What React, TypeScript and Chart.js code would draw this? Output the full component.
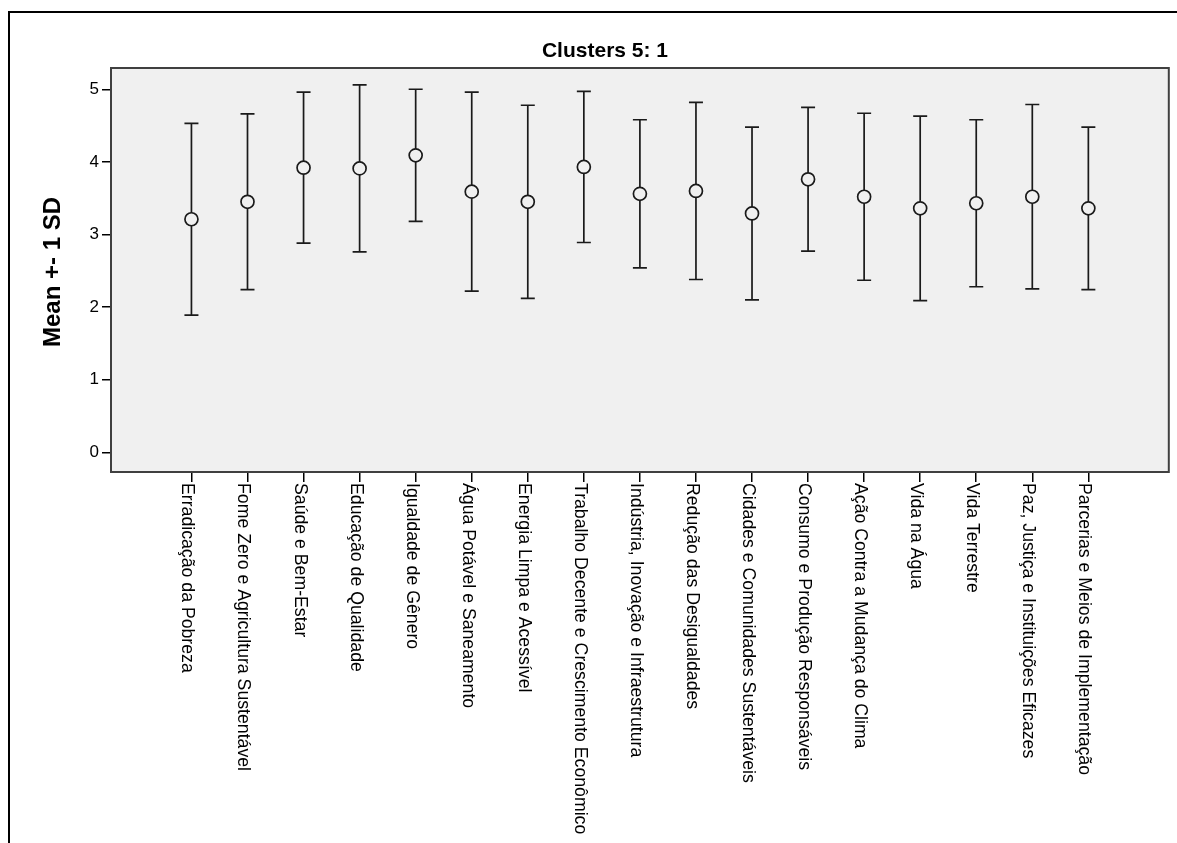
import { useEffect, useRef } from 'react';
import { Chart, registerables } from 'chart.js';

Chart.register(...registerables);

const TITLE = 'Clusters 5: 1';
const Y_TITLE = 'Mean +- 1 SD';

const categories = [
  'Erradicação da Pobreza',
  'Fome Zero e Agricultura Sustentável',
  'Saúde e Bem-Estar',
  'Educação de Qualidade',
  'Igualdade de Gênero',
  'Água Potável e Saneamento',
  'Energia Limpa e Acessível',
  'Trabalho Decente e Crescimento Econômico',
  'Indústria, Inovação e Infraestrutura',
  'Redução das Desigualdades',
  'Cidades e Comunidades Sustentáveis',
  'Consumo e Produção Responsáveis',
  'Ação Contra a Mudança do Clima',
  'Vida na Água',
  'Vida Terrestre',
  'Paz, Justiça e Instituições Eficazes',
  'Parcerias e Meios de Implementação',
];

const means = [3.21, 3.45, 3.92, 3.91, 4.09, 3.59, 3.45, 3.93, 3.56, 3.6, 3.29, 3.76, 3.52, 3.36, 3.43, 3.52, 3.36];
const sds = [1.32, 1.21, 1.04, 1.15, 0.91, 1.37, 1.33, 1.04, 1.02, 1.22, 1.19, 0.99, 1.15, 1.27, 1.15, 1.27, 1.12];

const yTicks = [0, 1, 2, 3, 4, 5];

const FONT = "'Liberation Sans', Arial, sans-serif";
const W = 1177;
const H = 843;

export default function App() {
  const ref = useRef<HTMLCanvasElement>(null);

  useEffect(() => {
    document.body.style.margin = '0';
    const canvas = ref.current!;

    const spssPlugin = {
      id: 'spss',
      beforeDraw(chart: any) {
        const { ctx, chartArea: a } = chart;
        ctx.save();
        ctx.fillStyle = '#ffffff';
        ctx.fillRect(0, 0, chart.width, chart.height);
        // outer frame
        ctx.strokeStyle = '#000';
        ctx.lineWidth = 2;
        ctx.beginPath();
        ctx.moveTo(9, chart.height);
        ctx.lineTo(9, 12);
        ctx.lineTo(chart.width, 12);
        ctx.stroke();
        // plot background
        ctx.fillStyle = '#f0f0f0';
        ctx.fillRect(a.left, a.top, a.right - a.left, a.bottom - a.top);
        ctx.restore();
      },
      beforeDatasetsDraw(chart: any) {
        const { ctx, chartArea: a, scales } = chart;
        const xs = scales.x;
        const ys = scales.y;
        ctx.save();
        // plot border
        ctx.strokeStyle = '#404040';
        ctx.lineWidth = 2;
        ctx.strokeRect(a.left, a.top, a.right - a.left, a.bottom - a.top);
        // error bars
        ctx.strokeStyle = '#1a1a1a';
        ctx.lineWidth = 1.7;
        means.forEach((m, i) => {
          const x = xs.getPixelForValue(i);
          const yt = ys.getPixelForValue(m + sds[i]);
          const yb = ys.getPixelForValue(m - sds[i]);
          ctx.beginPath();
          ctx.moveTo(x, yt);
          ctx.lineTo(x, yb);
          ctx.moveTo(x - 7, yt);
          ctx.lineTo(x + 7, yt);
          ctx.moveTo(x - 7, yb);
          ctx.lineTo(x + 7, yb);
          ctx.stroke();
        });
        ctx.restore();
      },
      afterDraw(chart: any) {
        const { ctx, chartArea: a, scales } = chart;
        const xs = scales.x;
        ctx.save();
        ctx.fillStyle = '#000';
        // title
        ctx.font = `bold 21px ${FONT}`;
        ctx.textAlign = 'right';
        ctx.textBaseline = 'alphabetic';
        ctx.fillText(TITLE, 668, 57);
        // y title
        ctx.save();
        ctx.translate(53, 272);
        ctx.rotate(-Math.PI / 2);
        ctx.font = `bold 24px ${FONT}`;
        ctx.textAlign = 'center';
        ctx.textBaseline = 'middle';
        ctx.fillText(Y_TITLE, 0, 0);
        ctx.restore();
        // category labels, rotated clockwise
        ctx.font = `17.7px ${FONT}`;
        ctx.textAlign = 'left';
        ctx.textBaseline = 'alphabetic';
        categories.forEach((c, i) => {
          const x = xs.getPixelForValue(i);
          ctx.save();
          ctx.translate(x - 9, a.bottom + 11);
          ctx.rotate(Math.PI / 2);
          ctx.fillText(c, 0, 0);
          ctx.restore();
        });
        ctx.restore();
      },
    };

    const chart = new Chart(canvas, {
      type: 'scatter',
      data: {
        datasets: [
          {
            data: means.map((m, i) => ({ x: i, y: m })),
            showLine: false,
            pointStyle: 'circle',
            pointRadius: 6.5,
            pointHoverRadius: 6.5,
            borderWidth: 1.7,
            borderColor: '#1a1a1a',
            backgroundColor: '#f0f0f0',
          },
        ],
      },
      options: {
        animation: false,
        responsive: false,
        devicePixelRatio: 1,
        layout: { padding: { left: 0, top: 68, right: 5, bottom: 0 } },
        plugins: {
          legend: { display: false },
          tooltip: { enabled: false },
          title: { display: false },
        },
        scales: {
          x: {
            type: 'linear',
            min: -1.435,
            max: 17.435,
            afterBuildTicks: (s: any) => {
              s.ticks = categories.map((_, i) => ({ value: i }));
            },
            afterFit: (s: any) => {
              s.height = H - 472;
            },
            ticks: {
              callback: () => '',
              maxRotation: 0,
              autoSkip: false,
            },
            grid: {
              display: true,
              drawOnChartArea: false,
              drawTicks: true,
              tickLength: 10,
              color: '#000',
              lineWidth: 1.5,
            },
            border: { display: false },
          },
          y: {
            type: 'linear',
            min: -0.271,
            max: 5.293,
            afterBuildTicks: (s: any) => {
              s.ticks = yTicks.map((v) => ({ value: v }));
            },
            afterFit: (s: any) => {
              s.width = 111;
            },
            ticks: {
              color: '#000',
              font: { family: FONT, size: 17 },
              padding: 3,
              callback: (v: any) => String(v),
            },
            grid: {
              display: true,
              drawOnChartArea: false,
              drawTicks: true,
              tickLength: 9,
              color: '#000',
              lineWidth: 1.5,
            },
            border: { display: false },
          },
        },
      },
      plugins: [spssPlugin],
    });

    return () => chart.destroy();
  }, []);

  return (
    <div style={{ width: W, height: H, position: 'relative' }}>
      <canvas ref={ref} width={W} height={H} style={{ display: 'block', width: W, height: H }} />
    </div>
  );
}
